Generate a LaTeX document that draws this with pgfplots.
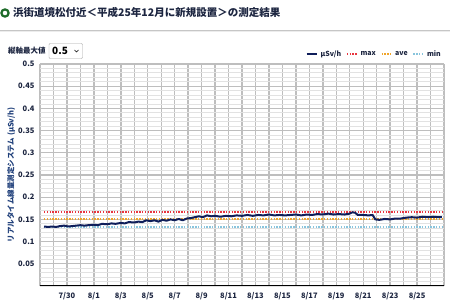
\documentclass[border=0pt]{standalone}
\usepackage{pgfplots}
\pgfplotsset{compat=1.18}
\usepackage{fontspec}
\setmainfont{Noto Sans CJK JP}
\definecolor{navy}{HTML}{0F1E5A}
\definecolor{txt}{HTML}{1C2540}
\definecolor{ylab}{HTML}{1F3F7A}
\definecolor{maxc}{HTML}{E8353F}
\definecolor{avec}{HTML}{F0A52A}
\definecolor{minc}{HTML}{88C4DC}
\definecolor{gmaj}{HTML}{BEBEBE}
\definecolor{gmin}{HTML}{E2E2E2}
\definecolor{bullet}{HTML}{1E6B2A}
\definecolor{baseline}{HTML}{B4C4D8}
\begin{document}
\begin{tikzpicture}
\begin{axis}[
  at={(0pt,0pt)}, anchor=south west,
  scale only axis, width=404pt, height=222pt,
  xmin=0, xmax=30, ymin=0, ymax=0.5,
  xtick={2,4,...,28},
  xticklabels={7/30,8/1,8/3,8/5,8/7,8/9,8/11,8/13,8/15,8/17,8/19,8/21,8/23,8/25},
  minor xtick={0,1,...,30},
  ytick={0.05,0.1,...,0.5},
  yticklabels={0.05,0.1,0.15,0.2,0.25,0.3,0.35,0.4,0.45,0.5},
  minor ytick={0,0.01,...,0.5},
  grid=both,
  major grid style={gmaj,line width=1.1pt},
  minor grid style={gmin,line width=0.8pt},
  x grid style={gmaj,line width=1.4pt},
  axis line style={draw=none},
  tick style={draw=none},
  every tick label/.append style={font=\fontsize{7.5}{9}\selectfont\bfseries,text=txt},
  /pgf/number format/assume math mode=true,
  yticklabel style={xshift=-2pt},
  xticklabel style={yshift=-3pt},
  ylabel={リアルタイム線量測定システム (μSv/h)},
  ylabel style={font=\fontsize{7.5}{9}\selectfont\bfseries,text=ylab,yshift=-4pt},
  legend columns=4,
  legend style={draw=none,fill=none,at={(rel axis cs:1,1)},anchor=east,yshift=10pt,xshift=-1pt,
    font=\fontsize{7}{8}\selectfont\bfseries,text=txt,
    /tikz/every odd column/.append style={column sep=1pt},
    /tikz/every even column/.append style={column sep=3pt},inner sep=0pt},
  legend image code/.code={\draw[#1] (0,0) -- (10pt,0);},
  clip=false,
]
\addplot[forget plot,maxc,line width=1.3pt,dash pattern=on 1.4pt off 1.4pt] coordinates {(0.3,0.167)(29.85,0.167)};
\addplot[forget plot,avec,line width=1.3pt,dash pattern=on 1.4pt off 1.4pt] coordinates {(0.3,0.151)(29.85,0.151)};
\addplot[forget plot,minc,line width=1.3pt,dash pattern=on 1.4pt off 1.4pt] coordinates {(0.3,0.133)(29.85,0.133)};
\addplot[forget plot,navy,line width=2pt,line join=round] coordinates {
(0.3,0.134)(0.6,0.133)(0.9,0.134)(1.2,0.133)(1.5,0.135)(1.8,0.136)(2.1,0.134)(2.4,0.135)(2.7,0.136)(3.0,0.137)
(3.3,0.136)(3.6,0.137)(4.0,0.138)(4.3,0.137)(4.6,0.140)(5.0,0.139)(5.3,0.141)(5.6,0.140)(6.0,0.142)(6.3,0.141)
(6.6,0.144)(7.0,0.143)(7.3,0.145)(7.6,0.144)(7.9,0.148)(8.2,0.146)(8.5,0.148)(8.8,0.145)(9.1,0.149)(9.4,0.147)
(9.7,0.150)(10.0,0.148)(10.3,0.151)(10.6,0.148)(10.9,0.152)(11.2,0.153)(11.5,0.155)(11.8,0.157)(12.1,0.155)(12.4,0.159)
(12.7,0.157)(13.0,0.158)(13.4,0.156)(13.8,0.158)(14.2,0.157)(14.6,0.159)(15.0,0.158)(15.4,0.160)(15.8,0.158)(16.2,0.160)
(16.6,0.159)(17.0,0.161)(17.4,0.159)(17.8,0.160)(18.2,0.159)(18.6,0.160)(19.0,0.161)(19.4,0.159)(19.8,0.161)(20.2,0.160)
(20.6,0.162)(21.0,0.161)(21.4,0.163)(21.8,0.161)(22.2,0.162)(22.6,0.161)(23.0,0.163)(23.2,0.166)(23.4,0.165)(23.6,0.160)
(24.0,0.160)(24.4,0.159)(24.7,0.160)(24.9,0.150)(25.2,0.149)(25.6,0.151)(26.0,0.150)(26.4,0.152)(26.8,0.152)(27.2,0.154)
(27.6,0.155)(28.0,0.154)(28.4,0.156)(28.8,0.155)(29.2,0.156)(29.6,0.155)(29.85,0.155)};
\addlegendimage{navy,line width=2pt}
\addlegendentry{μSv/h}
\addlegendimage{maxc,line width=1.3pt,dash pattern=on 1.4pt off 1.4pt}
\addlegendentry{max}
\addlegendimage{avec,line width=1.3pt,dash pattern=on 1.4pt off 1.4pt}
\addlegendentry{ave}
\addlegendimage{minc,line width=1.3pt,dash pattern=on 1.4pt off 1.4pt}
\addlegendentry{min}
\draw[baseline,line width=1pt] (axis cs:0,0) -- (axis cs:30,0);
\end{axis}
% image pixel (px,py) -> (px-40, 286-py)
\begin{scope}[x=1pt,y=1pt]
\draw[bullet,line width=2.2pt,fill=white] (-35,273) circle (3.6);
\node[anchor=west,inner sep=0,font=\fontsize{10.5}{12}\selectfont\bfseries,text=txt] at (-27,273) {浜街道境松付近＜平成25年12月に新規設置＞の測定結果};
\fill[gray!45] (-40,255) rectangle (410,256);
\fill[gray!15] (-40,254) rectangle (410,255);
\node[anchor=west,inner sep=0,font=\fontsize{7.5}{9}\selectfont\bfseries,text=txt] at (-32,235) {縦軸最大値};
\draw[gray!70,fill=white,rounded corners=1pt] (9,227.5) rectangle (42.5,242.5);
\node[anchor=west,inner sep=0,font=\fontsize{10}{12}\selectfont\bfseries,text=black] at (12,235) {0.5};
\draw[black,line width=0.5pt] (34.5,236) -- (36.5,234) -- (38.5,236);
\pgfresetboundingbox
\path[use as bounding box] (-40,-16) rectangle (410,286);
\end{scope}
\end{tikzpicture}
\end{document}
